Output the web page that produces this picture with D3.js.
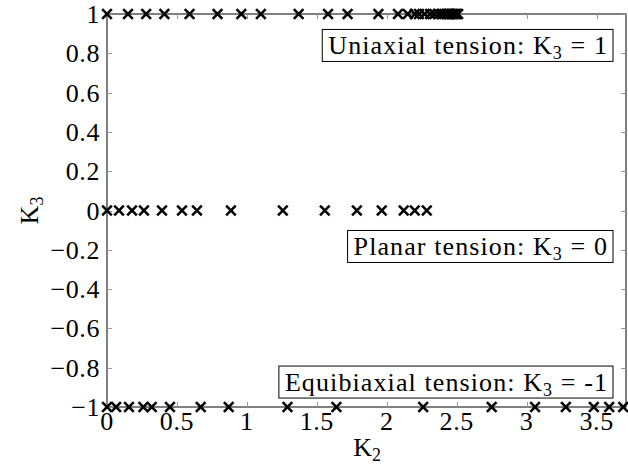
<!DOCTYPE html>
<html><head><meta charset="utf-8">
<script src="https://cdn.jsdelivr.net/npm/d3@7"></script>
<style>body{margin:0;background:#fff}svg{display:block}</style>
</head><body><svg id="c" width="628" height="468"></svg>
<script>
const uniaxialK2 = [0, 0.15, 0.28, 0.41, 0.59, 0.79, 0.96, 1.10, 1.37, 1.58, 1.72, 1.94, 2.08, 2.15, 2.20, 2.23, 2.27, 2.31, 2.34, 2.37, 2.39, 2.41, 2.43, 2.44, 2.45, 2.46, 2.47, 2.48, 2.49, 2.50, 2.51];
const planarK2 = [0, 0.086, 0.179, 0.264, 0.393, 0.536, 0.643, 0.886, 1.257, 1.557, 1.786, 1.964, 2.121, 2.2, 2.286];
const equibiaxialK2 = [0, 0.065, 0.157, 0.26, 0.32, 0.45, 0.67, 0.87, 1.29, 1.64, 2.26, 2.75, 3.06, 3.28, 3.48, 3.59, 3.69];
const seriesK3 = [1, 0, -1];
const xTicks = [0, 0.5, 1, 1.5, 2, 2.5, 3, 3.5];
const yTicks = [-1, -0.8, -0.6, -0.4, -0.2, 0, 0.2, 0.4, 0.6, 0.8, 1];
const annotations = [
  {name: "Uniaxial tension", val: "1", y: 0.84},
  {name: "Planar tension", val: "0", y: -0.183},
  {name: "Equibiaxial tension", val: "-1", y: -0.873}
];

const FF = "'Liberation Serif', 'DejaVu Serif', serif";
const svg = d3.select("#c").attr("font-family", FF);
const L = 107, R = 626, T = 14, B = 407;
const x = d3.scaleLinear().domain([0, 3.71]).range([L, R]);
const y = d3.scaleLinear().domain([-1, 1]).range([B, T]);
const fs = 26, sub = 18;
const fmt = v => (v < 0 ? "\u2212" : "") + String(Math.abs(v));

// frame
svg.append("rect").attr("x", L).attr("y", T).attr("width", R - L).attr("height", B - T)
  .attr("fill", "none").attr("stroke", "#000").attr("stroke-width", 1);

const tl = 5;
const g = svg.append("g").attr("stroke", "#999").attr("stroke-width", 1);
xTicks.forEach(t => {
  const px = Math.round(x(t)) + 0.5;
  g.append("line").attr("x1", px).attr("x2", px).attr("y1", B).attr("y2", B - tl);
  g.append("line").attr("x1", px).attr("x2", px).attr("y1", T).attr("y2", T + tl);
});
yTicks.forEach(t => {
  const py = Math.round(y(t)) + 0.5;
  g.append("line").attr("x1", L).attr("x2", L + tl).attr("y1", py).attr("y2", py);
  g.append("line").attr("x1", R).attr("x2", R - tl).attr("y1", py).attr("y2", py);
});

xTicks.forEach(t => {
  svg.append("text").attr("x", x(t)).attr("y", B + 23).attr("text-anchor", "middle")
    .attr("font-size", fs).attr("letter-spacing", 0.6).text(fmt(t));
});
yTicks.forEach(t => {
  svg.append("text").attr("x", L - 7).attr("y", y(t) + 9).attr("text-anchor", "end")
    .attr("font-size", fs).attr("letter-spacing", 0.6).text(fmt(t));
});

// axis labels
const xl = svg.append("text").attr("x", x(1.86)).attr("y", 456).attr("text-anchor", "middle").attr("font-size", fs);
xl.append("tspan").text("K");
xl.append("tspan").attr("font-size", sub).attr("dy", 5).text("2");
const yl = svg.append("text").attr("transform", `translate(38,${y(0)}) rotate(-90)`).attr("text-anchor", "middle").attr("font-size", fs);
yl.append("tspan").text("K");
yl.append("tspan").attr("font-size", sub).attr("dy", 5).text("3");

// markers
const r = 4.8;
const cross = (cx, cy) => `M${cx - r},${cy - r}L${cx + r},${cy + r}M${cx - r},${cy + r}L${cx + r},${cy - r}`;
[uniaxialK2, planarK2, equibiaxialK2].forEach((arr, i) => {
  svg.append("g").selectAll("path").data(arr).join("path")
    .attr("d", d => cross(x(d), y(seriesK3[i])))
    .attr("stroke", "#000").attr("stroke-width", 2.6).attr("fill", "none");
});

// annotation boxes
const boxRight = 613;
annotations.forEach(a => {
  const t = svg.append("text").attr("x", 0).attr("y", y(a.y) + 9).attr("font-size", fs).attr("letter-spacing", 1.1);
  t.append("tspan").text(a.name + ": K");
  t.append("tspan").attr("font-size", sub).attr("dy", 5).text("3");
  t.append("tspan").attr("dy", -5).text(" = " + a.val);
  const w = t.node().getComputedTextLength();
  const tx = boxRight - 5 - w;
  t.attr("x", tx);
  svg.insert("rect", "text").attr("x", tx - 6).attr("y", y(a.y) - 16).attr("width", boxRight - tx + 6).attr("height", 32)
    .attr("fill", "#fff").attr("stroke", "#000").attr("stroke-width", 1);
});
</script></body></html>
